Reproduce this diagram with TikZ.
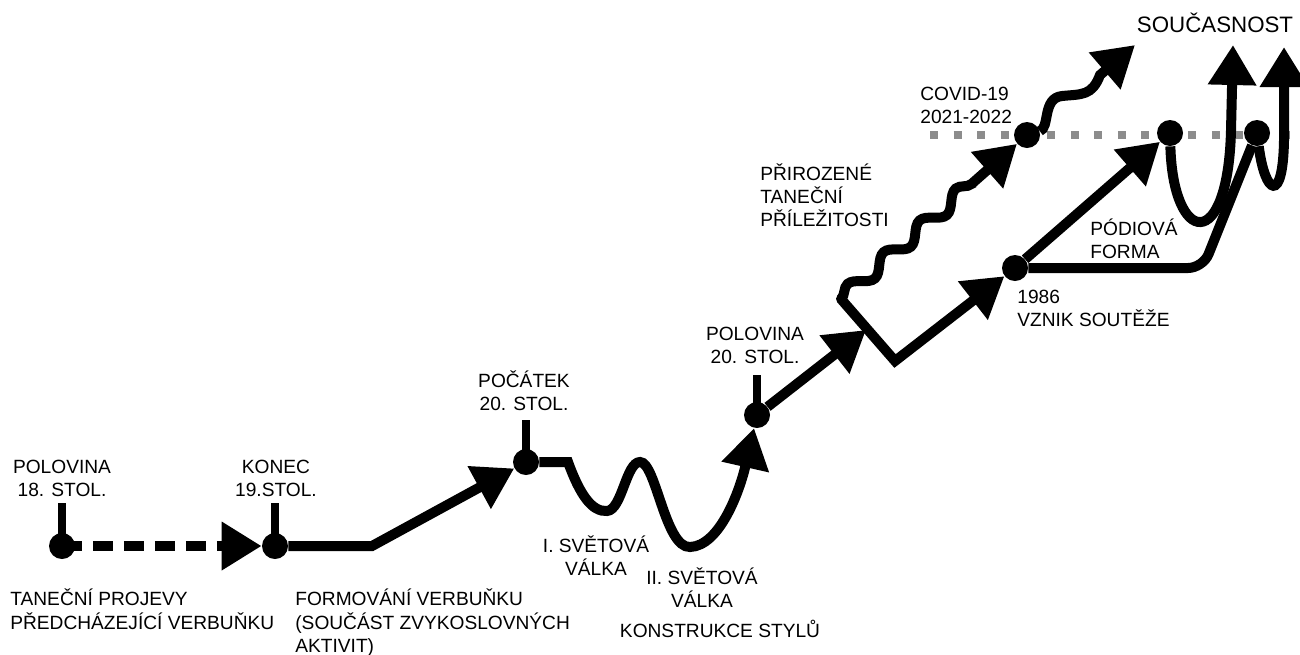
\documentclass[tikz,border=0pt]{standalone}
\usepackage{fontspec}
\setmainfont{Liberation Sans}
\usetikzlibrary{arrows.meta,decorations.pathmorphing,backgrounds}
\definecolor{dotgray}{RGB}{140,140,140}
\newcommand\hs{\rule{0pt}{0.4cm}}
\begin{document}
\begin{tikzpicture}[x=0.02cm,y=-0.02cm,
  conn/.style={line width=0.2cm},
  tickline/.style={line width=0.16cm},
  dot/.style={circle, fill=black, inner sep=0pt, minimum size=0.52cm},
  lab/.style={inner sep=0pt, font=\fontsize{10.9pt}{13.3pt}\selectfont},
  labc/.style={lab, anchor=north, align=center},
  labl/.style={lab, anchor=north west, align=left},
  tip/.style={-{Triangle[length=0.8cm,width=0.92cm]}},
  gdots/.style={line width=0.16cm, draw=dotgray, dash pattern=on 0.16cm off 0.31cm}]
\useasboundingbox (0,0) rectangle (1300,654);

% dots
\node[dot] (a) at (62,546) {};
\node[dot] (b) at (275,546) {};
\node[dot] (c) at (526,462) {};
\node[dot] (d) at (757,415) {};
\node[dot] (cov) at (1027,135) {};
\node[dot] (e) at (1015,268) {};
\node[dot] (f) at (1170,133) {};
\node[dot] (g) at (1257,133) {};

% helper coordinates
\coordinate (tA) at (62,503);
\coordinate (tB) at (275,503);
\coordinate (tC) at (526,420);
\coordinate (tD) at (757,375);
\coordinate (bk1) at (372,546);
\coordinate (w0) at (568,462);
\coordinate (j) at (866,330);
\coordinate (p1) at (841,299);
\coordinate (p2) at (895,361);
\coordinate (sA) at (1135,45);
\coordinate (e1) at (1203,268);
\coordinate (sF) at (1233,45);
\coordinate (sG) at (1284,47);
\coordinate (g0) at (930,135);
\coordinate (g1) at (1300,135);

\begin{scope}[on background layer]
\draw[gdots] (g0) -- (g1);
\draw[tickline] (a.center) -- (tA);
\draw[tickline] (b.center) -- (tB);
\draw[tickline] (c.center) -- (tC);
\draw[tickline] (d.center) -- (tD);
\draw[conn, tip, dash pattern=on 0.4cm off 0.22cm] (a.center) -- (b);
\draw[conn, tip] (b) -- (bk1) -- (c);
\draw[conn, tip] (c) -- (w0) .. controls (580,495) and (592,512) .. (607,511)
  .. controls (622,510) and (626,462) .. (640,462)
  .. controls (656,462) and (665,548) .. (690,547)
  .. controls (720,546) and (740,490) .. (d);
\draw[conn, tip] (d) -- (j);
\draw[conn, tip, line cap=round] (p1) -- (p2) -- (e);
\draw[conn, tip, decorate, decoration={snake, amplitude=0.14cm, segment length=0.96cm, post length=0.9cm}] (p1) -- (cov);
\draw[conn, tip] (cov) .. controls (1050,128) and (1042,98) .. (1062,96)
  .. controls (1082,94) and (1092,96) .. (1100,75) -- (sA);
\draw[conn, tip] (e) -- (f);
\draw[conn, rounded corners=0.3cm] (e) -- (e1) -- (g);
\draw[conn, tip] (f) .. controls (1173,245) and (1228,255) .. (1231,130) -- (sF);
\draw[conn, tip] (g) .. controls (1265,195) and (1283,205) .. (1284,140) -- (sG);
\end{scope}

% labels
\node[labc] (l1) at (62,452.9) {\hs POLOVINA\\18. STOL.};
\node[labc] (l2) at (276,452.9) {\hs KONEC\\19.STOL.};
\node[labc] (l3) at (524,366.9) {\hs POČÁTEK\\20. STOL.};
\node[labc] (l4) at (755,319.9) {\hs POLOVINA\\20. STOL.};
\node[labc] (l5) at (596,531.9) {\hs I. SVĚTOVÁ\\VÁLKA};
\node[labc] (l6) at (702,563.9) {\hs II. SVĚTOVÁ\\VÁLKA};
\node[labc] (l7) at (720,616.9) {\hs KONSTRUKCE STYLŮ};
\node[labl] (l8) at (760,159.9) {\hs PŘIROZENÉ\\TANEČNÍ\\PŘÍLEŽITOSTI};
\node[labl] (l9) at (920,79.9) {\hs COVID-19\\2021-2022};
\node[inner sep=0pt, anchor=base, font=\fontsize{12.7pt}{15pt}\selectfont] (l10) at (1215,32) {SOUČASNOST};
\node[labl] (l11) at (1090,214.9) {\hs PÓDIOVÁ\\FORMA};
\node[labl] (l12) at (1017,282.9) {\hs 1986\\VZNIK SOUTĚŽE};
\node[labl] (l13) at (10,585.4) {\hs TANEČNÍ PROJEVY\\PŘEDCHÁZEJÍCÍ VERBUŇKU};
\node[labl] (l14) at (295,585.4) {\hs FORMOVÁNÍ VERBUŇKU\\(SOUČÁST ZVYKOSLOVNÝCH\\AKTIVIT)};
\end{tikzpicture}
\end{document}
